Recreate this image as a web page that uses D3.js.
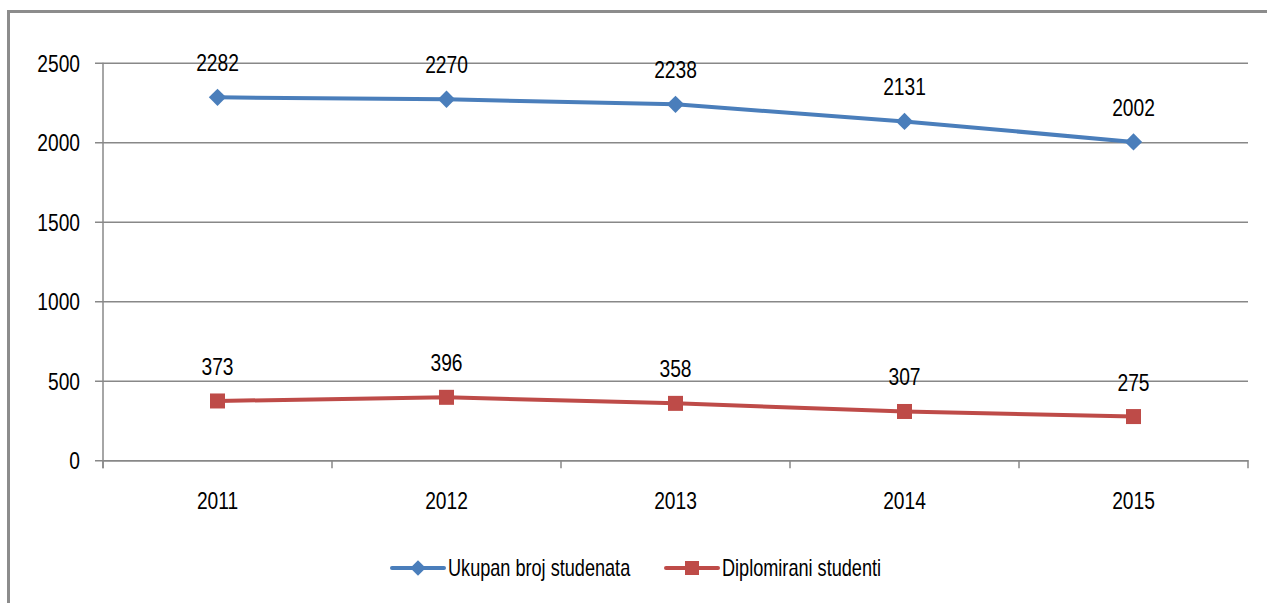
<!DOCTYPE html>
<html>
<head>
<meta charset="utf-8">
<script src="https://cdn.jsdelivr.net/npm/d3@7"></script>
<style>
  html, body { margin: 0; padding: 0; background: #fff; }
  svg { display: block; }
  text { font-family: "Liberation Sans", Arial, sans-serif; fill: #000; }
</style>
</head>
<body>
<script>
// Student numbers per year
const years = ["2011", "2012", "2013", "2014", "2015"];
const totalStudents = [2282, 2270, 2238, 2131, 2002];
const graduates = [373, 396, 358, 307, 275];
const yTicks = [0, 500, 1000, 1500, 2000, 2500];
const seriesNames = ["Ukupan broj studenata", "Diplomirani studenti"];
const seriesColors = ["#4a7ebb", "#be4b48"];

const W = 1267, H = 603;
const plot = { left: 103, right: 1248, top: 62.7, bottom: 460.3 };
const fontSize = 24;
const numSquash = 0.8;     // condensed look for numbers
const textSquash = 0.755; // condensed look for legend words

const svg = d3.select("body").append("svg").attr("width", W).attr("height", H);

// outer frame (extends past the right and bottom edges)
svg.append("rect")
  .attr("x", 8.5).attr("y", 11.5)
  .attr("width", W + 20).attr("height", H + 20)
  .attr("fill", "none").attr("stroke", "#8c8c8c").attr("stroke-width", 3);

const x = d3.scaleBand().domain(years).range([plot.left, plot.right]);
const y = d3.scaleLinear().domain([0, 2500]).range([plot.bottom, plot.top]);

// horizontal gridlines with outer ticks
const yAxis = d3.axisLeft(y).tickValues(yTicks).tickFormat(d3.format("d"))
  .tickSize(-(plot.right - plot.left));
const gy = svg.append("g").attr("transform", `translate(${plot.left},0)`).call(yAxis);
gy.select(".domain").remove();
gy.selectAll(".tick line").attr("stroke", "#888").attr("stroke-width", 1.5).attr("x1", -8);
gy.selectAll(".tick text").attr("font-size", fontSize).attr("dy", "0.35em").attr("x", 0)
  .attr("transform", `translate(-23,0) scale(${numSquash},1)`);

// vertical axis line
svg.append("line")
  .attr("x1", plot.left).attr("x2", plot.left)
  .attr("y1", plot.top).attr("y2", plot.bottom + 8)
  .attr("stroke", "#888").attr("stroke-width", 1.5);

// category axis
const xAxis = d3.axisBottom(x).tickSize(0).tickPadding(0);
const gx = svg.append("g").attr("transform", `translate(0,${plot.bottom})`).call(xAxis);
gx.select(".domain").attr("stroke", "#888").attr("stroke-width", 1.5);
gx.selectAll(".tick text").attr("font-size", fontSize).attr("dy", 0).attr("y", 0)
  .attr("transform", `translate(0,48.5) scale(${numSquash},1)`);
// category boundary ticks
const boundaries = years.map(d => x(d)).concat([x(years[years.length - 1]) + x.bandwidth()]);
svg.append("g").selectAll("line").data(boundaries).join("line")
  .attr("x1", d => d).attr("x2", d => d)
  .attr("y1", plot.bottom).attr("y2", plot.bottom + 8)
  .attr("stroke", "#888").attr("stroke-width", 1.5);

const cx = d => x(d) + x.bandwidth() / 2;
const series = [totalStudents, graduates];

const line = d3.line().x((d, i) => cx(years[i])).y(d => y(d));

series.forEach((vals, s) => {
  const g = svg.append("g");
  g.append("path").datum(vals)
    .attr("d", line).attr("fill", "none")
    .attr("stroke", seriesColors[s]).attr("stroke-width", 4).attr("stroke-linejoin", "round");
  if (s === 0) {
    g.selectAll("path.m").data(vals).join("path").attr("class", "m")
      .attr("d", d3.symbol(d3.symbolSquare, 150)())
      .attr("transform", (d, i) => `translate(${cx(years[i])},${y(d)}) rotate(45)`)
      .attr("fill", seriesColors[s]);
  } else {
    g.selectAll("rect.m").data(vals).join("rect").attr("class", "m")
      .attr("x", (d, i) => cx(years[i]) - 7.5).attr("y", d => y(d) - 7.5)
      .attr("width", 15).attr("height", 15)
      .attr("fill", seriesColors[s]);
  }
  g.selectAll("text").data(vals).join("text")
    .attr("transform", (d, i) => `translate(${cx(years[i])},${y(d) - 26}) scale(${numSquash},1)`)
    .attr("text-anchor", "middle").attr("font-size", fontSize)
    .text(d => d);
});

// legend
const legend = svg.append("g");
const legendItems = [
  { x0: 392, name: seriesNames[0], color: seriesColors[0], shape: "diamond" },
  { x0: 666, name: seriesNames[1], color: seriesColors[1], shape: "square" }
];
const ly = 568;
legendItems.forEach(it => {
  legend.append("line").attr("x1", it.x0).attr("x2", it.x0 + 52)
    .attr("y1", ly).attr("y2", ly)
    .attr("stroke", it.color).attr("stroke-width", 4).attr("stroke-linecap", "round");
  if (it.shape === "diamond") {
    legend.append("path").attr("d", d3.symbol(d3.symbolSquare, 120)())
      .attr("transform", `translate(${it.x0 + 26},${ly}) rotate(45)`).attr("fill", it.color);
  } else {
    legend.append("rect").attr("x", it.x0 + 19).attr("y", ly - 7)
      .attr("width", 14).attr("height", 14).attr("fill", it.color);
  }
  legend.append("text")
    .attr("transform", `translate(${it.x0 + 56},${ly}) scale(${textSquash},1)`)
    .attr("dy", "0.35em").attr("font-size", fontSize).text(it.name);
});
</script>
</body>
</html>
